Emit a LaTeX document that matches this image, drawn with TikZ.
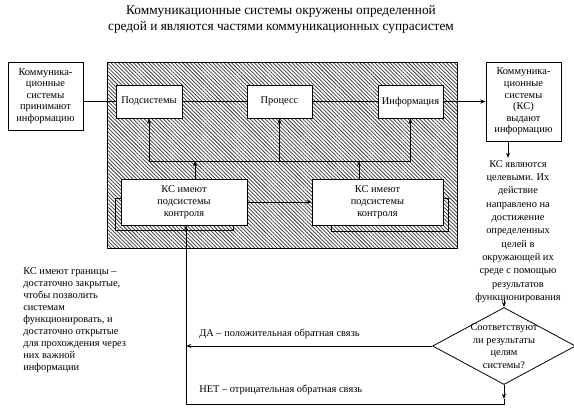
\documentclass[tikz,border=0pt]{standalone}
\usepackage{fontspec}
\setmainfont{Liberation Serif}
\usetikzlibrary{arrows.meta,patterns.meta,shapes.geometric}
\newcommand\boxfont{\fontsize{7.8}{8.7}\selectfont}
\tikzset{
  ln/.style={line width=0.6pt},
  arr/.style={ln,-{Stealth[length=4pt,width=3pt]}},
  box/.style={draw,ln,fill=white,align=center,inner sep=1pt,font=\boxfont},
  plain/.style={inner sep=0pt,font=\boxfont},
}
\begin{document}
\begin{tikzpicture}[x=0.75pt,y=-0.75pt]
\useasboundingbox (0,0) rectangle (574,412);
% title
\node[inner sep=0pt,align=center,font=\fontsize{10}{12}\selectfont] (title) at (281,19)
  {Коммуникационные системы окружены определенной\\средой и являются частями коммуникационных супрасистем};
% hatched environment
\draw[ln,pattern={Lines[angle=-45,distance=2pt,line width=0.55pt]},pattern color=black!80] (107,62) rectangle (457,248);
% top row
\node[box,minimum width=56.25pt,minimum height=51pt] (lb) at (45.5,96)
  {Коммуника-\\ционные\\системы\\принимают\\информацию};
\node[box,minimum width=49.5pt,minimum height=24.75pt] (sub) at (149,101.5) {Подсистемы};
\node[box,minimum width=48.75pt,minimum height=24.75pt] (proc) at (279.5,101.5) {Процесс};
\node[box,minimum width=48.75pt,minimum height=24.75pt] (info) at (410.5,101.5) {Информация};
\node[box,minimum width=56.25pt,minimum height=59.25pt] (rb) at (523.5,101.5)
  {Коммуника-\\ционные\\системы\\(КС)\\выдают\\информацию};
% control boxes with back boxes
\draw[ln] (115,198) rectangle (233,230);
\draw[ln] (331,198) rectangle (448,231);
\node[box,minimum width=94.5pt,minimum height=34.5pt,font=\fontsize{7.8}{9}\selectfont] (ctrl1) at (184,202) {КС имеют\\подсистемы\\контроля};
\node[box,minimum width=98.25pt,minimum height=34.5pt,font=\fontsize{7.8}{9}\selectfont] (ctrl2) at (377.5,202) {КС имеют\\подсистемы\\контроля};
% row connectors
\draw[ln] (lb.east |- sub.west) -- (sub.west);
\draw[ln] (sub.east) -- (proc.west);
\draw[ln] (proc.east) -- (info.west);
\draw[arr] (info.east) -- (rb.west);
% bus
\coordinate (b1) at (195,161);
\coordinate (b2) at (359,161);
\draw[ln] (sub.south |- b1) -- (info.south |- b1);
\draw[arr] (sub.south |- b1) -- (sub.south);
\draw[arr] (proc.south |- b1) -- (proc.south);
\draw[arr] (info.south |- b1) -- (info.south);
\draw[arr] (b1 |- ctrl1.north) -- (b1);
\draw[arr] (b2 |- ctrl2.north) -- (b2);
\draw[arr] (ctrl1.east) -- (ctrl2.west);
% goal text
\node[plain,align=center,font=\fontsize{7.8}{10}\selectfont] (goal) at (518,231.5)
  {КС являются\\целевыми. Их\\действие\\направлено на\\достижение\\определенных\\целей в\\окружающей их\\среде с помощью\\результатов\\функционирования};
\coordinate (g1) at (508,158);
\draw[arr] (g1 |- rb.south) -- (g1);
% diamond
\node[draw,ln,diamond,aspect=1.857,minimum width=107.25pt,minimum height=57.75pt,inner sep=-4pt,align=center,font=\fontsize{7.8}{9.5}\selectfont] (dia) at (504,346)
  {Соответствуют\\ли результаты\\целям\\системы?};
\coordinate (g2) at (504,300);
\draw[arr] (g2) -- (dia.north);
% feedback loops
\coordinate (nb) at (504,399);
\coordinate (bl) at (186,404);
\draw[arr] (dia.south) -- (nb);
\draw[arr] (nb) -- (dia.south |- bl) -- (bl) -- (bl |- ctrl1.south);
\draw[arr] (dia.west) -- (dia.west -| bl);
\node[plain,anchor=west] (yes) at (199,334) {ДА – положительная обратная связь};
\node[plain,anchor=west] (no) at (199,390) {НЕТ – отрицательная обратная связь};
% left text
\node[plain,anchor=west,align=left,font=\fontsize{7.8}{9}\selectfont] (bound) at (23,320)
  {КС имеют границы –\\достаточно закрытые,\\чтобы позволить\\системам\\функционировать, и\\достаточно открытые\\для прохождения через\\них важной\\информации};
\end{tikzpicture}
\end{document}
